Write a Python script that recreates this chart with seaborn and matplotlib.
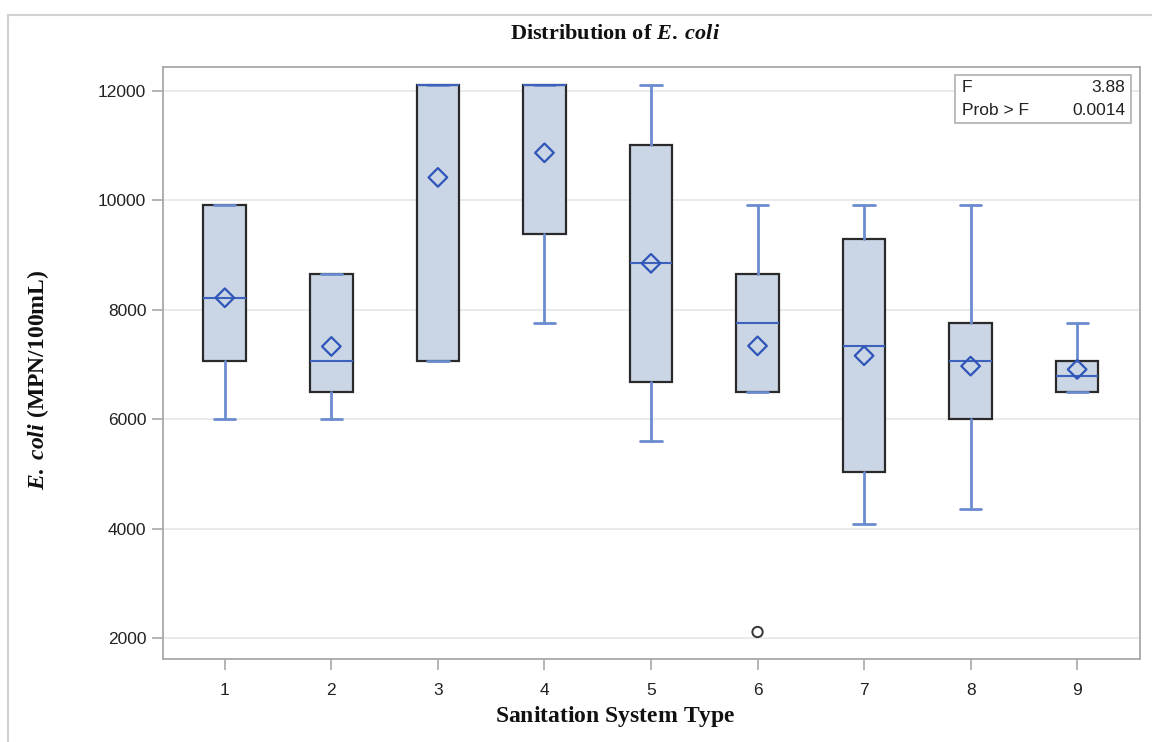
import matplotlib
matplotlib.use("Agg")
import matplotlib.pyplot as plt
import matplotlib.patches as mpatches
import seaborn as sns
import pandas as pd

# values (MPN/100mL)
types = [1, 2, 3, 4, 5, 6, 7, 8, 9]
q1 = [7070, 6500, 7060, 9390, 6680, 6500, 5040, 6000, 6500]
med = [8220, 7060, 12100, 12100, 8850, 7760, 7330, 7070, 6790]
q3 = [9920, 8660, 12100, 12100, 11010, 8660, 9290, 7760, 7070]
whislo = [6000, 6000, 7060, 7760, 5610, 6500, 4080, 4350, 6500]
whishi = [9920, 8660, 12100, 12100, 12100, 9920, 9920, 9920, 7760]
means = [8220, 7330, 10420, 10870, 8850, 7340, 7160, 6970, 6910]
outlier_type = [6]
outlier_val = [2110]
f_value = "3.88"
prob_f = "0.0014"

sns.set_theme(style="white")
plt.rcParams['font.family'] = ['Liberation Sans', 'DejaVu Sans']
plt.rcParams['mathtext.fontset'] = 'custom'
plt.rcParams['mathtext.rm'] = 'Liberation Serif:bold'
plt.rcParams['mathtext.it'] = 'Liberation Serif:italic:bold'
plt.rcParams['mathtext.bf'] = 'Liberation Serif:bold'

fig = plt.figure(figsize=(11.52, 7.42), dpi=100)
ax = fig.add_axes([0.1415, 0.1119, 0.8481, 0.7978])

# outer frame (left and top edges only visible)
fig.patches.append(mpatches.Rectangle((8 / 1152, -0.1), 1.2, 1 - 15 / 742 + 0.1,
                                      transform=fig.transFigure, fill=False,
                                      edgecolor="#D0D0D0", lw=1.5))

stats = []
for i in range(len(types)):
    stats.append(dict(q1=q1[i], med=med[i], q3=q3[i], whislo=whislo[i],
                      whishi=whishi[i], fliers=[]))

whisk_col = "#6B8CCF"
med_col = "#3D62BD"
ax.bxp(stats, positions=types, widths=0.4, patch_artist=True,
       showfliers=False,
       boxprops=dict(facecolor="#CAD5E5", edgecolor="#2A2A2A", lw=1.6),
       medianprops=dict(color=med_col, lw=1.5),
       whiskerprops=dict(color=whisk_col, lw=2),
       capprops=dict(color=whisk_col, lw=2),
       capwidths=0.2, zorder=3)

mean_df = pd.DataFrame({"type": types, "mean": means})
sns.scatterplot(data=mean_df, x="type", y="mean", marker="D", s=90,
                facecolor="none", edgecolor="#2F55B8", linewidth=1.6,
                zorder=5, ax=ax)
out_df = pd.DataFrame({"type": outlier_type, "val": outlier_val})
sns.scatterplot(data=out_df, x="type", y="val", marker="o", s=55,
                facecolor="none", edgecolor="#333333", linewidth=1.4,
                zorder=5, ax=ax)

ax.set_xlim(0.42, 9.59)
ax.set_ylim(1617, 12438)
ax.set_xticks(types)
ax.set_xticklabels([str(t) for t in types])
ax.set_yticks([2000, 4000, 6000, 8000, 10000, 12000])
ax.yaxis.grid(True, color="#E6E6E6", lw=1.2)
ax.set_axisbelow(True)
for s in ax.spines.values():
    s.set_color("#A8A8A8")
    s.set_linewidth(1.3)
ax.tick_params(axis="both", which="both", direction="out", length=8,
               width=1.2, color="#A8A8A8", labelsize=12.5, labelcolor="#222222",
               pad=4, left=True, bottom=True)
ax.tick_params(axis="x", pad=9)
ax.set_xlabel("")
ax.set_ylabel("")

# F statistics inset
ax.add_patch(mpatches.Rectangle((0.8106, 0.9054), 0.1802, 0.0811,
                                transform=ax.transAxes, fill=True,
                                facecolor="white", edgecolor="#B0B0B0",
                                lw=1.2, zorder=6))
ax.text(0.8175, 0.966, "F", transform=ax.transAxes, fontsize=12.5,
        ha="left", va="center", color="#222222", zorder=7)
ax.text(0.985, 0.966, f_value, transform=ax.transAxes, fontsize=12.5,
        ha="right", va="center", color="#222222", zorder=7)
ax.text(0.8175, 0.926, "Prob > F", transform=ax.transAxes, fontsize=12.5,
        ha="left", va="center", color="#222222", zorder=7)
ax.text(0.985, 0.926, prob_f, transform=ax.transAxes, fontsize=12.5,
        ha="right", va="center", color="#222222", zorder=7)

fig.text(0.534, 0.955, r"$\mathrm{Distribution\ of\ }\mathit{E.\;coli}$",
         ha="center", va="center", fontsize=16, color="#111111")
fig.text(0.534, 0.035, r"$\mathrm{Sanitation\ System\ Type}$",
         ha="center", va="center", fontsize=17, color="#111111")
fig.text(0.033, 0.488, r"$\mathit{E.\;coli}\ \mathrm{(MPN/100mL)}$",
         ha="center", va="center", rotation=90, fontsize=17, color="#111111")

fig.savefig("out.png", dpi=100)
